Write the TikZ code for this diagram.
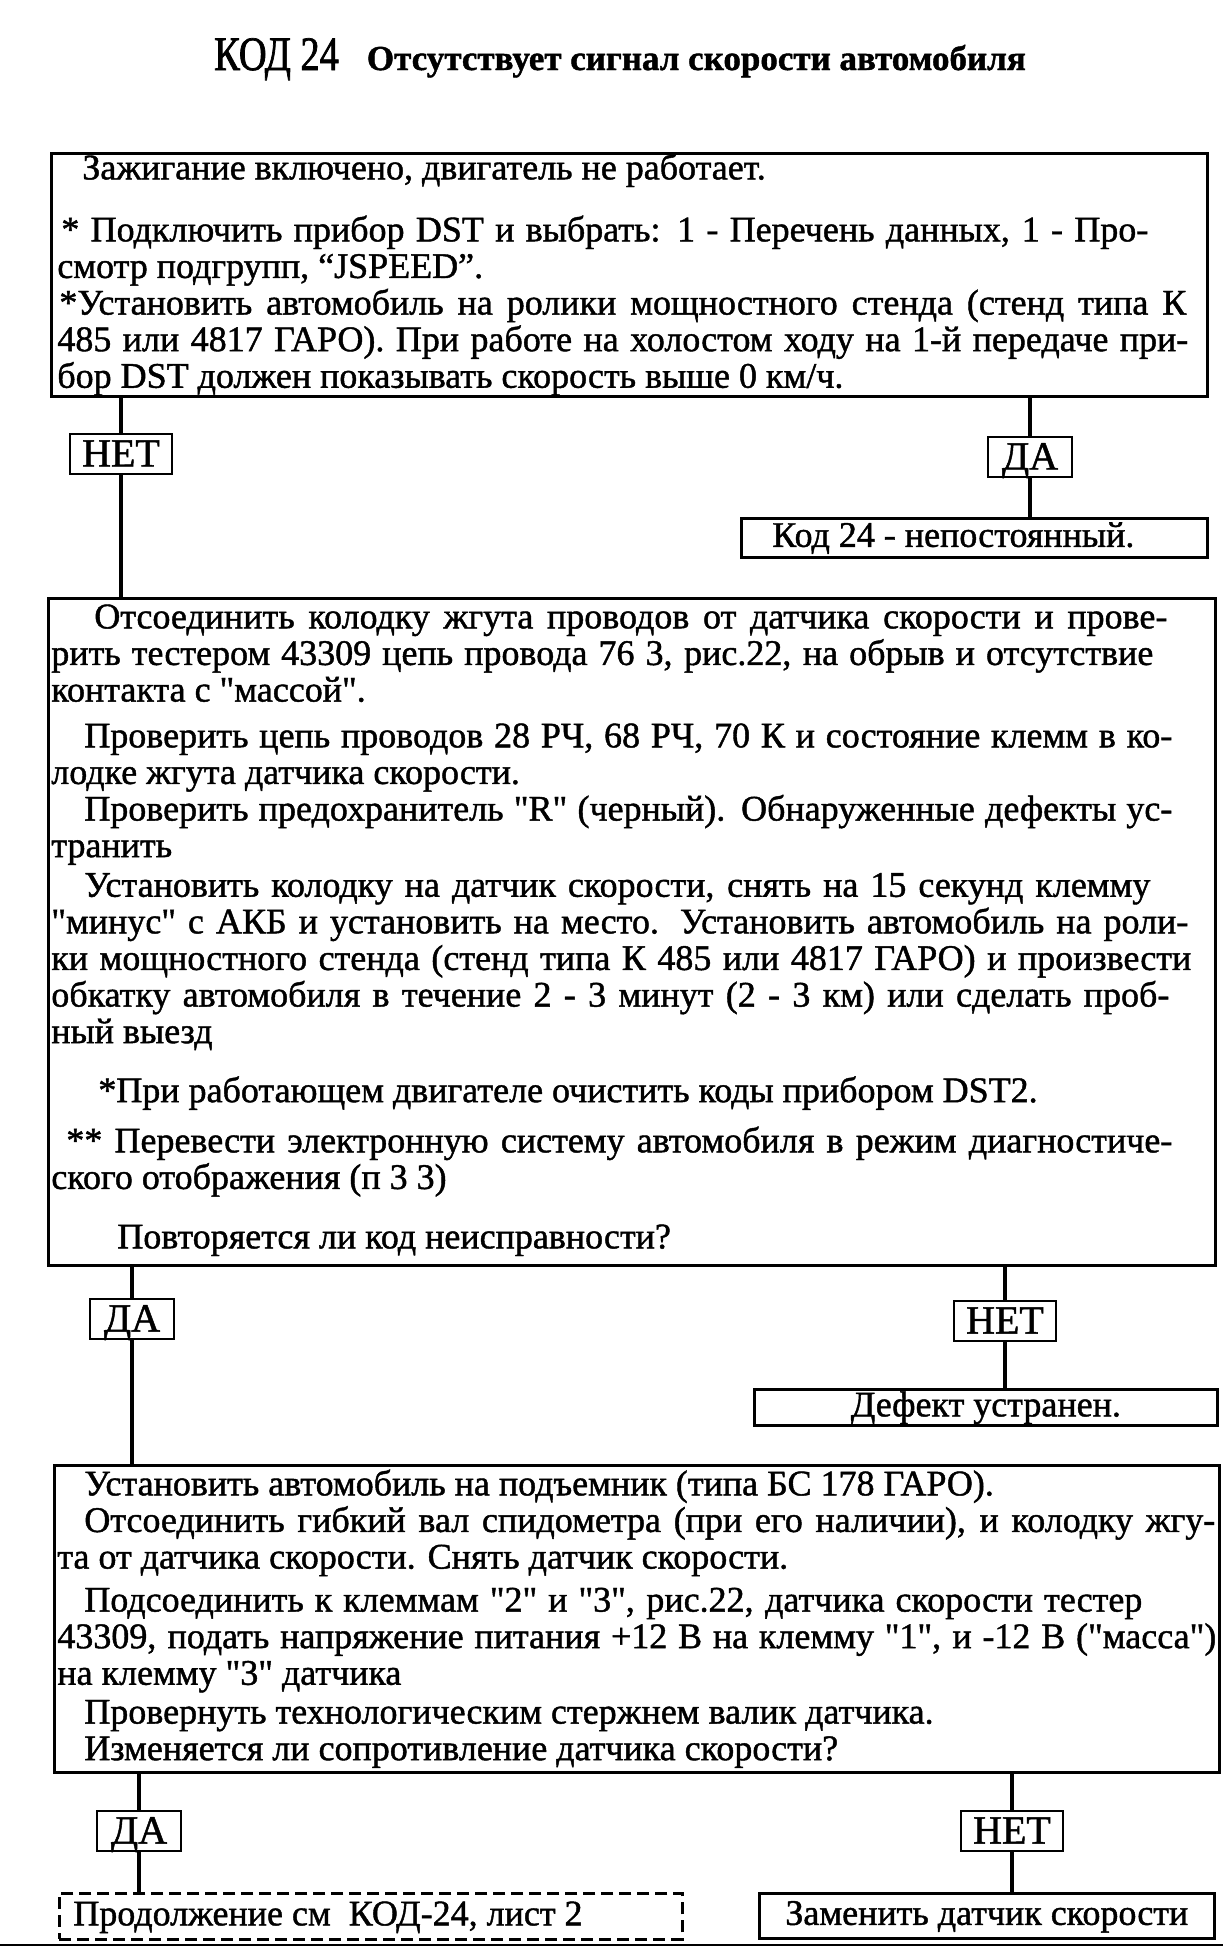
\documentclass[tikz,border=0pt]{standalone}
\usepackage{fontspec}
\setmainfont{Liberation Serif}[Ligatures=TeXOff, FakeBold=1.2]
\newfontfamily\condfont[FakeStretch=0.8, FakeBold=1.5]{Liberation Serif}
\newcommand{\jline}[2]{\makebox[#1][s]{#2}}

\begin{document}
\begin{tikzpicture}[x=0.5pt, y=-0.5pt,
  every node/.style={font=\fontsize{18}{18.3}\selectfont},
  box/.style={draw, line width=1.35pt, anchor=north west, inner ysep=0pt},
  result/.style={draw, line width=1.35pt, anchor=north west, inner ysep=0pt,
                 text height=13pt, text depth=4pt},
  answer/.style={draw, line width=1.15pt, fill=white, minimum width=42pt,
                 minimum height=20pt, inner xsep=6pt, inner ysep=0pt,
                 text height=14pt, text depth=1.5pt,
                 font=\fontsize{20}{20}\selectfont},
  conn/.style={line width=2pt}
]
  \useasboundingbox (0,0) rectangle (1223,1949);

  \node[anchor=base] (title) at (620,70)
    {{\condfont\fontsize{24}{24}\selectfont КОД 24}\hspace{14pt}{\bfseries\fontsize{17.5}{17.5}\selectfont Отсутствует сигнал скорости автомобиля}};

  % first check
  \node[box, inner xsep=3pt] (start) at (50,152) {\parbox[t][121.5pt][t]{572pt}{%
    \rule{0pt}{13pt}\hspace*{12.5pt}Зажигание включено, двигатель не работает.\\[12.7pt]
    \jline{545.5pt}{\hspace*{2pt}* Подключить прибор DST и выбрать: 1 - Перечень данных, 1 - Про-}\\
    смотр подгрупп, “JSPEED”.\\
    \jline{564.5pt}{\hspace*{1pt}*Установить автомобиль на ролики мощностного стенда (стенд типа К}\\
    \jline{565.5pt}{485 или 4817 ГАРО). При работе на холостом ходу на 1-й передаче при-}\\
    бор DST должен показывать скорость выше 0 км/ч.}};

  \node[result, inner xsep=15.5pt, minimum height=19.5pt] (intermit) at (740,517)
    {\makebox[202pt][l]{Код 24 - непостоянный.}};

  % wiring check
  \node[box, inner xsep=1.5pt] (wiring) at (47,597) {\parbox[t][333.5pt][t]{580.5pt}{%
    \rule{0pt}{15pt}\jline{558pt}{\hspace*{21.5pt}Отсоединить колодку жгута проводов от датчика скорости и прове-}\\
    \jline{551pt}{рить тестером 43309 цепь провода 76 3, рис.22, на обрыв и отсутствие}\\
    контакта с "массой".\\[4.6pt]
    \jline{560.5pt}{\hspace*{16.5pt}Проверить цепь проводов 28 РЧ, 68 РЧ, 70 К и состояние клемм в ко-}\\
    лодке жгута датчика скорости.\\
    \jline{560.5pt}{\hspace*{16.5pt}Проверить предохранитель "R" (черный). Обнаруженные дефекты ус-}\\
    транить\\[1.5pt]
    \jline{549.5pt}{\hspace*{16.5pt}Установить колодку на датчик скорости, снять на 15 секунд клемму}\\
    \jline{568.5pt}{"минус" с АКБ и установить на место. Установить автомобиль на роли-}\\
    \jline{570pt}{ки мощностного стенда (стенд типа К 485 или 4817 ГАРО) и произвести}\\
    \jline{559pt}{обкатку автомобиля в течение 2 - 3 минут (2 - 3 км) или сделать проб-}\\
    ный выезд\\[11.2pt]
    \hspace*{23.5pt}*При работающем двигателе очистить коды прибором DST2.\\[6.8pt]
    \jline{560.5pt}{\hspace*{7.5pt}** Перевести электронную систему автомобиля в режим диагностиче-}\\
    ского отображения (п 3 3)\\[11.4pt]
    \hspace*{33pt}Повторяется ли код неисправности?}};

  \node[result, minimum width=231.5pt, minimum height=18pt, inner xsep=0pt] (fixed) at (753,1388) {Дефект устранен.};

  % sensor check
  \node[box, inner xsep=1.5pt] (sensor) at (53,1464) {\parbox[t][153.5pt][t]{579.5pt}{%
    \rule{0pt}{15pt}\hspace*{13.5pt}Установить автомобиль на подъемник (типа БС 178 ГАРО).\\
    \jline{579pt}{\hspace*{13.5pt}Отсоединить гибкий вал спидометра (при его наличии), и колодку жгу-}\\
    та от датчика скорости. Снять датчик скорости.\\[3.2pt]
    \jline{542.5pt}{\hspace*{13.5pt}Подсоединить к клеммам "2" и "3", рис.22, датчика скорости тестер}\\
    \jline{579.5pt}{43309, подать напряжение питания +12 В на клемму "1", и -12 В ("масса")}\\
    на клемму "3" датчика\\[1.1pt]
    \hspace*{13.5pt}Провернуть технологическим стержнем валик датчика.\\
    \hspace*{13.5pt}Изменяется ли сопротивление датчика скорости?}};

  \node[result, dash pattern=on 6pt off 3pt, inner xsep=7pt, minimum height=23pt] (sheet) at (58,1892)
    {\makebox[297.5pt][l]{Продолжение см\hspace{9pt}КОД-24, лист 2}};
  \node[result, inner xsep=13pt, minimum height=22.5pt] (replace) at (758,1892)
    {\makebox[201.5pt][l]{Заменить датчик скорости}};

  % answers
  \node[answer] (no_a)  at (121,454)  {НЕТ};
  \node[answer] (yes_a) at (1030,457) {ДА};
  \node[answer] (yes_b) at (132,1319) {ДА};
  \node[answer] (no_b)  at (1005,1321) {НЕТ};
  \node[answer] (yes_c) at (139,1831) {ДА};
  \node[answer] (no_c)  at (1012,1831) {НЕТ};

  \draw[conn] (no_a |- start.south)   -- (no_a)  -- (no_a |- wiring.north);
  \draw[conn] (yes_a |- start.south)  -- (yes_a) -- (yes_a |- intermit.north);
  \draw[conn] (yes_b |- wiring.south) -- (yes_b) -- (yes_b |- sensor.north);
  \draw[conn] (no_b |- wiring.south)  -- (no_b)  -- (no_b |- fixed.north);
  \draw[conn] (yes_c |- sensor.south) -- (yes_c) -- (yes_c |- sheet.north);
  \draw[conn] (no_c |- sensor.south)  -- (no_c)  -- (no_c |- replace.north);

  \draw[line width=1.3pt] (0,1945) -- (1223,1945);
\end{tikzpicture}
\end{document}
